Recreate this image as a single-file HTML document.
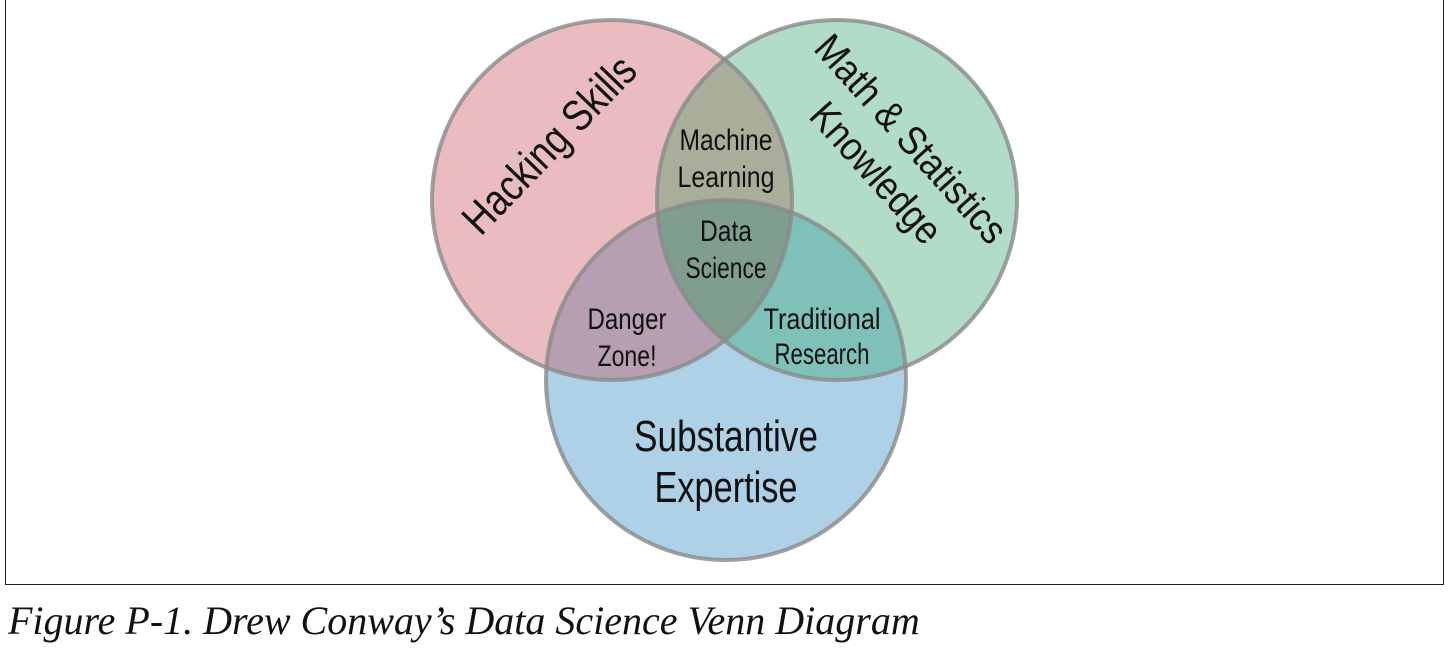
<!DOCTYPE html>
<html><head><style>
body{margin:0;width:1450px;height:659px;background:#fff;overflow:hidden;position:relative}
.frame{position:absolute;left:5px;top:-1px;width:1439px;height:586px;border:1px solid #222;box-sizing:border-box}
.cap{position:absolute;left:8px;top:597px;font:italic 40px "Liberation Serif",serif;color:#111;white-space:nowrap}
svg text{font-family:"Liberation Sans",sans-serif;fill:#111;text-anchor:middle}
</style></head><body>
<div class="frame"></div>
<svg width="1450" height="590" style="position:absolute;left:0;top:0">
<defs>
<clipPath id="cr"><circle cx="612" cy="200" r="180"/></clipPath>
<clipPath id="cg"><circle cx="837" cy="200" r="180"/></clipPath>
</defs>
<circle cx="612" cy="200" r="180" fill="#ebbcbf"/>
<circle cx="837" cy="200" r="180" fill="#b1dcc7"/>
<circle cx="726" cy="380" r="180" fill="#aed1e8"/>
<g clip-path="url(#cr)"><circle cx="837" cy="200" r="180" fill="#a9ae9a"/><circle cx="726" cy="380" r="180" fill="#b59fb1"/></g>
<g clip-path="url(#cg)"><circle cx="726" cy="380" r="180" fill="#7fc0b8"/></g>
<g clip-path="url(#cr)"><g clip-path="url(#cg)"><circle cx="726" cy="380" r="180" fill="#809e90"/></g></g>
<g fill="none" stroke="#8a8a8a" stroke-opacity="0.8" stroke-width="4">
<circle cx="612" cy="200" r="180"/><circle cx="837" cy="200" r="180"/><circle cx="726" cy="380" r="180"/>
</g>
<text font-size="44" textLength="228" lengthAdjust="spacingAndGlyphs" transform="translate(560,155) rotate(-46)">Hacking Skills</text>
<text font-size="40" textLength="265" lengthAdjust="spacingAndGlyphs" transform="translate(901,148) rotate(48)">Math &amp; Statistics</text>
<text font-size="40" textLength="175" lengthAdjust="spacingAndGlyphs" transform="translate(866,182) rotate(48)">Knowledge</text>
<g font-size="30">
<text x="726" y="150" textLength="93" lengthAdjust="spacingAndGlyphs">Machine</text>
<text x="726" y="187" textLength="97" lengthAdjust="spacingAndGlyphs">Learning</text>
<text x="726" y="241" textLength="52" lengthAdjust="spacingAndGlyphs">Data</text>
<text x="726" y="278" textLength="81" lengthAdjust="spacingAndGlyphs">Science</text>
<text x="627" y="329" textLength="79" lengthAdjust="spacingAndGlyphs">Danger</text>
<text x="627" y="366" textLength="59" lengthAdjust="spacingAndGlyphs">Zone!</text>
<text x="822" y="329" textLength="117" lengthAdjust="spacingAndGlyphs">Traditional</text>
<text x="822" y="364" textLength="95" lengthAdjust="spacingAndGlyphs">Research</text>
</g>
<text font-size="44" x="726" y="451" textLength="184" lengthAdjust="spacingAndGlyphs">Substantive</text>
<text font-size="44" x="726" y="502" textLength="143" lengthAdjust="spacingAndGlyphs">Expertise</text>
</svg>
<div class="cap">Figure P-1. Drew Conway’s Data Science Venn Diagram</div>
</body></html>
